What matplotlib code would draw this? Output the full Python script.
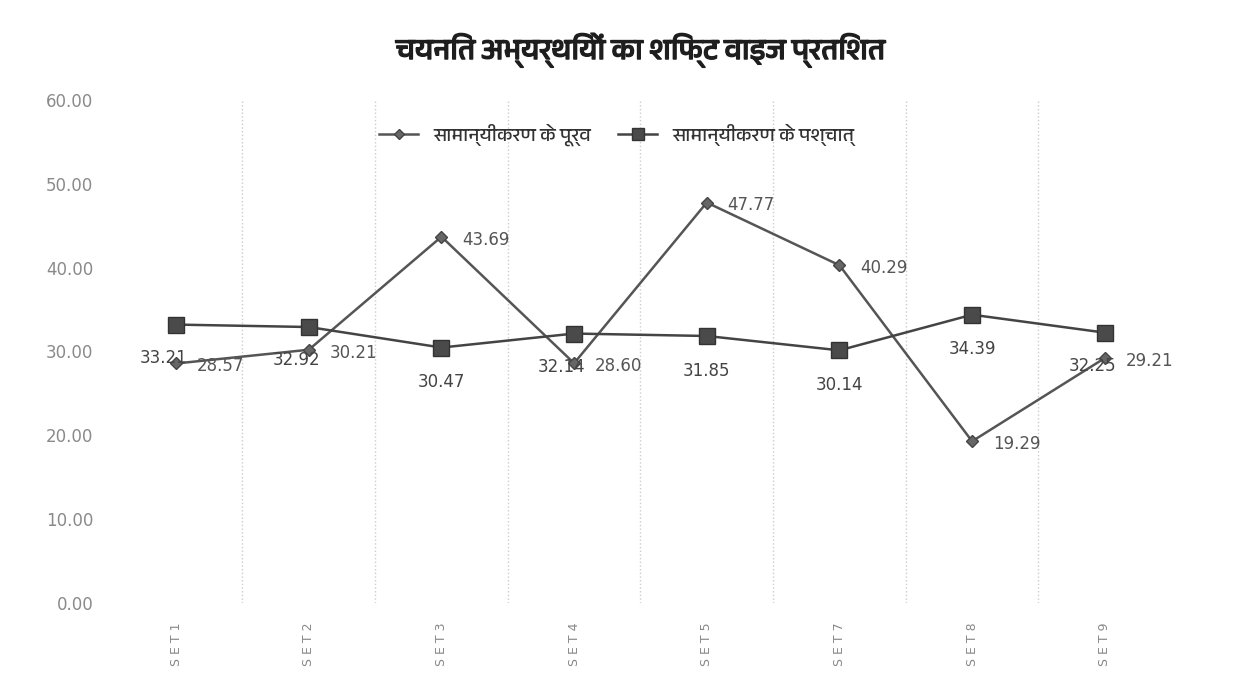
import matplotlib
matplotlib.use("Agg")
import matplotlib.pyplot as plt
import matplotlib.patheffects as pe
from matplotlib import font_manager, ft2font

# categories and values
sets = ["SET 1", "SET 2", "SET 3", "SET 4", "SET 5", "SET 7", "SET 8", "SET 9"]
before = [28.57, 30.21, 43.69, 28.60, 47.77, 40.29, 19.29, 29.21]
after = [33.21, 32.92, 30.47, 32.14, 31.85, 30.14, 34.39, 32.25]
yticks = [0, 10, 20, 30, 40, 50, 60]

title = "चयनित अभ्यर्थियों का शिफ्ट वाइज प्रतिशत"
lbl_before = "सामान्यीकरण के पूर्व"
lbl_after = "सामान्यीकरण के पश्चात्"


### look for an installed font that has Devanagari glyphs (prefer a Devanagari-named one)
def find_devanagari():
    found = []
    for f in font_manager.fontManager.ttflist:
        try:
            cm = ft2font.FT2Font(f.fname).get_charmap()
        except Exception:
            continue
        if 0x0915 in cm and 0x093F in cm:
            found.append(f.name)
    if not found:
        return None
    for n in found:
        if "Devanagari" in n:
            return n
    return found[0]


deva = find_devanagari()
fams = [deva, "DejaVu Sans"] if deva else ["DejaVu Sans"]

fig = plt.figure(figsize=(12.34, 6.95), dpi=100)
ax = fig.add_axes([0.089, 0.1324, 0.86, 0.7237])

x = list(range(len(sets)))
l1, = ax.plot(x, before, color="#555555", lw=1.8, marker="D", ms=6,
              mfc="#666666", mec="#444444", label=lbl_before)
l2, = ax.plot(x, after, color="#444444", lw=1.8, marker="s", ms=11,
              mfc="#4a4a4a", mec="#333333", label=lbl_after)

for xi, v in zip(x, before):
    ax.annotate("%.2f" % v, (xi, v), xytext=(15, -2), textcoords="offset points",
                ha="left", va="center", fontsize=12, color="#555555")
for xi, (v, b) in zip(x, zip(after, before)):
    # labels that would run into the "before" label sit a bit to the left
    if abs(v - b) < 6 and v > b:
        ax.annotate("%.2f" % v, (xi, v), xytext=(8, -24), textcoords="offset points",
                    ha="right", va="center", fontsize=12, color="#444444")
    else:
        ax.annotate("%.2f" % v, (xi, v), xytext=(0, -25), textcoords="offset points",
                    ha="center", va="center", fontsize=12, color="#444444")

ax.set_xlim(-0.5, len(sets) - 0.5)
ax.set_ylim(0, 60)
ax.set_yticks(yticks)
ax.set_yticklabels(["%.2f" % t for t in yticks], fontsize=12, color="#8a8a8a")
ax.set_xticks(x)
ax.set_xticklabels([" ".join(s.replace(" ", "")) for s in sets], rotation=90,
                   fontsize=9, color="#888888")
ax.set_xticks([i + 0.5 for i in x[:-1]], minor=True)
ax.grid(True, which="minor", axis="x", ls=":", color="#cccccc", lw=1)
ax.tick_params(axis="both", which="both", length=0)
ax.tick_params(axis="y", pad=12)
ax.tick_params(axis="x", pad=14)
for s in ax.spines.values():
    s.set_visible(False)

# no bold face for the Devanagari font, so thicken it with a stroke
fig.text(0.519, 0.928, title, ha="center", va="center", fontsize=21,
         fontweight="bold", family=fams, color="#1e1e1e",
         path_effects=[pe.withStroke(linewidth=1.0, foreground="#1e1e1e")])
fig.legend(handles=[l1, l2], loc="center", bbox_to_anchor=(0.5, 0.806), ncol=2,
           frameon=False, prop={"family": fams, "size": 14}, handlelength=2.0,
           columnspacing=1.4, labelcolor="#333333", markerscale=0.8)

fig.savefig("out.png", dpi=100, facecolor="white")
